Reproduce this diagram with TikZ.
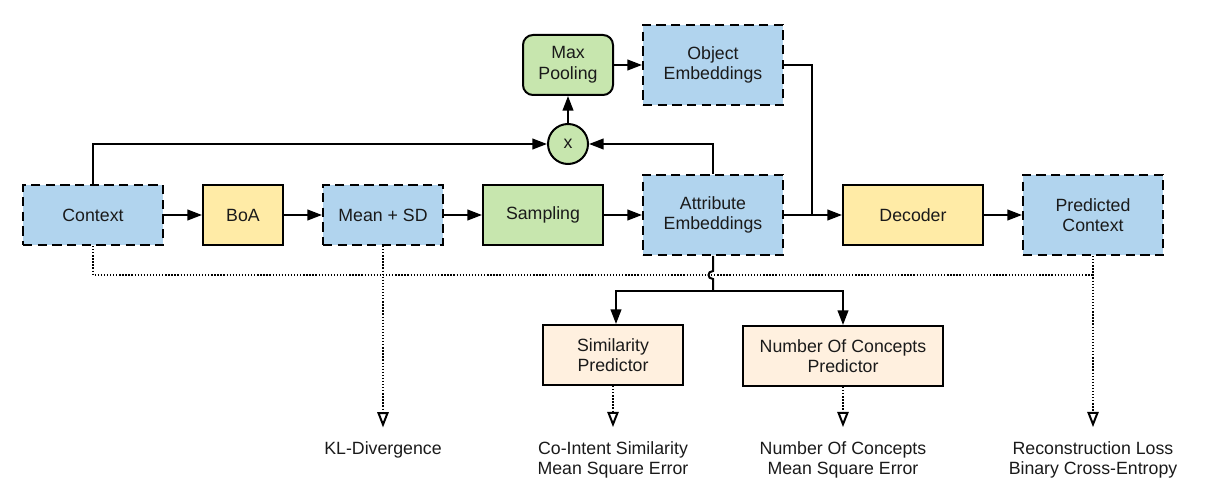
\documentclass[tikz,border=0pt]{standalone}
\usepackage{fontspec}
\setmainfont{Liberation Sans}
\usepackage{tikz}
\usetikzlibrary{arrows.meta}
\definecolor{embblue}{HTML}{B1D4EE}
\definecolor{opyellow}{HTML}{FFEBA6}
\definecolor{opgreen}{HTML}{C7E6AE}
\definecolor{predpeach}{HTML}{FFF0DF}
\definecolor{txtdark}{HTML}{1A1A1A}

\begin{document}
\begin{tikzpicture}[x=0.75pt,y=-0.75pt,font=\fontsize{13.3}{15.5}\selectfont,text=txtdark,
  box/.style={rectangle,draw=black,line width=1.5pt,align=center,minimum height=45pt,inner sep=2pt},
  embbox/.style={box,fill=embblue,dash pattern=on 7pt off 4pt},
  opbox/.style={box,fill=opyellow},
  samplebox/.style={box,fill=opgreen},
  predbox/.style={box,fill=predpeach},
  flow/.style={-{Triangle[length=11pt,width=8pt]},line width=1.5pt},
  link/.style={line width=1.5pt},
  lossline/.style={line width=1pt,dash pattern=on 1pt off 1.3pt},
  lossflow/.style={lossline,-{Triangle[open,length=11.5pt,width=8.5pt,line width=1.5pt,sep=0pt]}},
  losstext/.style={align=center,inner sep=0pt}]
\useasboundingbox (0,0) rectangle (1206,502);
\node[embbox,minimum width=105pt] (context) at (93,215) {Context};
\node[opbox,minimum width=60pt] (boa) at (243,215) {BoA};
\node[embbox,minimum width=90pt] (meansd) at (383,215) {Mean + SD};
\node[samplebox,minimum width=90pt] (sampling) at (543,215) {Sampling};
\node[embbox,minimum width=105pt,minimum height=60pt] (attremb) at (713,215) {Attribute\\Embeddings};
\node[embbox,minimum width=105pt,minimum height=60pt] (objemb) at (713,65) {Object\\Embeddings};
\node[samplebox,rounded corners=7.5pt,minimum width=67.5pt] (maxpool) at (568,65) {Max\\Pooling};
\node[circle,draw=black,line width=1.5pt,fill=opgreen,minimum size=30pt,inner sep=0pt] (mult) at (568,144) {x};
\node[opbox,minimum width=105pt] (decoder) at (913,215) {Decoder};
\node[embbox,minimum width=105pt,minimum height=60pt] (predctx) at (1093,215) {Predicted\\Context};
\node[predbox,minimum width=105pt] (simpred) at (613,355) {Similarity\\Predictor};
\node[predbox,minimum width=150pt] (numpred) at (843,356) {Number Of Concepts\\Predictor};
\node[losstext] (kl) at (383,450) {KL-Divergence};
\node[losstext] (simloss) at (613,460) {Co-Intent Similarity\\Mean Square Error};
\node[losstext] (numloss) at (843,460) {Number Of Concepts\\Mean Square Error};
\node[losstext] (recloss) at (1093,460) {Reconstruction Loss\\Binary Cross-Entropy};
\coordinate (objturn) at (812,65);
\coordinate (split) at (713,291);
\coordinate (hoptop) at (713,271);
\coordinate (hopbot) at (713,279);
\coordinate (lossrow) at (1093,275);
\draw[flow] (context) -- (boa);
\draw[flow] (boa) -- (meansd);
\draw[flow] (meansd) -- (sampling);
\draw[flow] (sampling) -- (attremb);
\draw[flow] (attremb) -- (decoder);
\draw[flow] (decoder) -- (predctx);
\draw[flow] (maxpool) -- (objemb);
\draw[flow] (mult) -- (maxpool);
\draw[flow] (context.north) |- (mult);
\draw[flow] (attremb.north) |- (mult);
\draw[link] (objemb.east) -- (objturn) -- (objturn |- decoder);
\draw[link] (attremb.south) -- (hoptop) .. controls (707,271) and (707,279) .. (hopbot) -- (split);
\draw[flow] (split) -| (simpred.north -| 616,0);
\draw[flow] (split) -| (numpred.north);
\draw[lossline] (context.south) |- (lossrow);
\draw[lossflow] (predctx.south) -- ([yshift=10.5pt]recloss.north);
\draw[lossflow] (meansd.south) -- ([yshift=10.5pt]kl.north);
\draw[lossflow] (simpred.south) -- ([yshift=10.5pt]simloss.north);
\draw[lossflow] (numpred.south) -- ([yshift=10.5pt]numloss.north);
\end{tikzpicture}
\end{document}
